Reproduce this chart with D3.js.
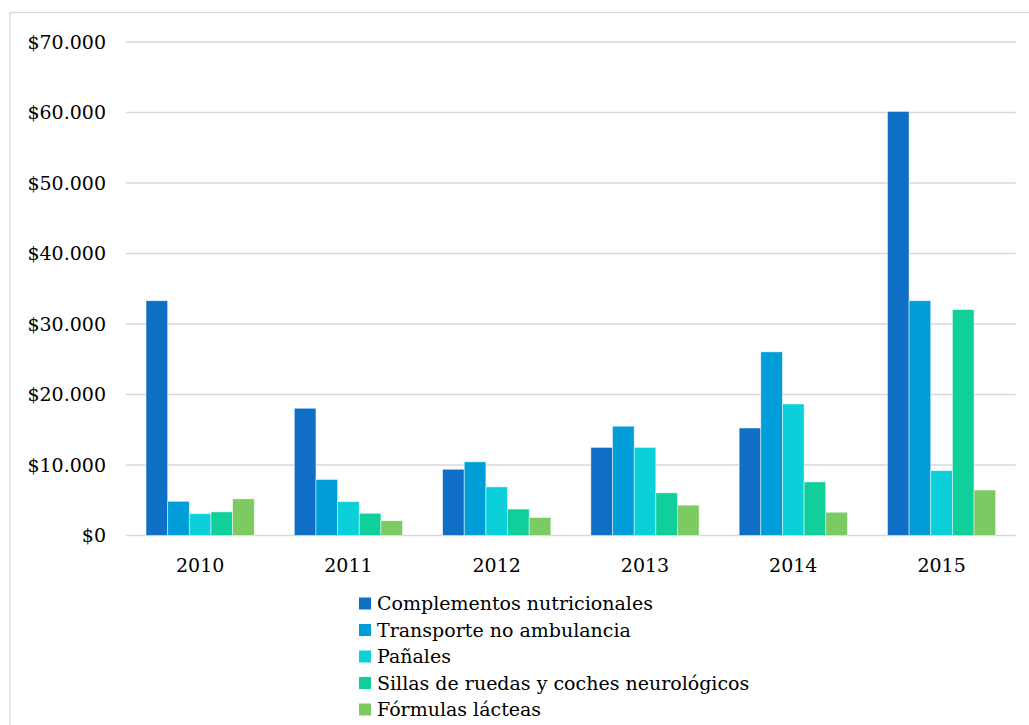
<!DOCTYPE html>
<html>
<head>
<meta charset="utf-8">
<script src="https://cdn.jsdelivr.net/npm/d3@7"></script>
<style>
  body { margin: 0; background: #fff; }
</style>
</head>
<body>
<div id="chart"></div>
<script>
var years = ["2010", "2011", "2012", "2013", "2014", "2015"];
var seriesNames = ["Complementos nutricionales", "Transporte no ambulancia", "Pañales",
                   "Sillas de ruedas y coches neurológicos", "Fórmulas lácteas"];
var complementos = [33300, 18050, 9400, 12500, 15250, 60150];
var transporte   = [4850, 7950, 10450, 15500, 26050, 33300];
var panales      = [3100, 4800, 6900, 12500, 18650, 9200];
var sillas       = [3350, 3150, 3750, 6050, 7600, 32050];
var formulas     = [5200, 2100, 2550, 4300, 3300, 6450];
var yTicks = [0, 10000, 20000, 30000, 40000, 50000, 60000, 70000];
var colors = ["#0f6fc6", "#009dd9", "#0bd0d9", "#10cf9b", "#7cca62"];

var series = [complementos, transporte, panales, sillas, formulas];
var serif = "'DejaVu Serif'";
var fs = "19px";

var margin = {top: 42, left: 126, right: 13.3, bottom: 189.5};
var W = 1029, H = 725;
var width = W - margin.left - margin.right;
var height = H - margin.top - margin.bottom;

var svg = d3.select("#chart").append("svg").attr("width", W).attr("height", H);

// outer frame
svg.append("rect")
  .attr("x", 10).attr("y", 12.5).attr("width", 1030).attr("height", 730)
  .attr("fill", "none").attr("stroke", "#d9d9d9").attr("stroke-width", 1.3);

var g = svg.append("g").attr("transform", "translate(" + margin.left + "," + margin.top + ")");

var x0 = d3.scaleBand().domain(years).range([0, width]).paddingInner(0.27).paddingOuter(0.135);
var x1 = d3.scaleBand().domain(d3.range(seriesNames.length)).range([0, x0.bandwidth()]);
var y = d3.scaleLinear().domain([0, 70000]).range([height, 0]);

var fmt = function(v) { return "$" + d3.format(",")(v).replace(/,/g, "."); };

// grid
g.append("g").selectAll("line").data(yTicks).enter().append("line")
  .attr("x1", 0).attr("x2", width)
  .attr("y1", function(d) { return y(d); }).attr("y2", function(d) { return y(d); })
  .attr("stroke", "#d9d9d9").attr("stroke-width", 1.4);

// y labels
g.append("g").selectAll("text").data(yTicks).enter().append("text")
  .attr("x", -20).attr("y", function(d) { return y(d); })
  .attr("dy", "0.36em").attr("text-anchor", "end")
  .style("font-family", serif).style("font-size", fs)
  .text(fmt);

// bars
var groups = g.selectAll(".year").data(years).enter().append("g")
  .attr("transform", function(d) { return "translate(" + x0(d) + ",0)"; });

groups.selectAll("rect").data(function(d, i) { return series.map(function(s, k) { return {k: k, v: s[i]}; }); })
  .enter().append("rect")
  .attr("x", function(d) { return x1(d.k); })
  .attr("width", x1.bandwidth())
  .attr("y", function(d) { return y(d.v); })
  .attr("height", function(d) { return height - y(d.v); })
  .attr("fill", function(d) { return colors[d.k]; })
  .attr("stroke", "#ffffff").attr("stroke-opacity", 0.6).attr("stroke-width", 0.8);

// x labels
g.append("g").selectAll("text").data(years).enter().append("text")
  .attr("x", function(d) { return x0(d) + x0.bandwidth() / 2; })
  .attr("y", height + 36.5)
  .attr("text-anchor", "middle")
  .style("font-family", serif).style("font-size", fs)
  .text(function(d) { return d; });

// legend
var legend = svg.append("g").attr("transform", "translate(359,597.5)");
var rowH = 26.5;
seriesNames.forEach(function(name, i) {
  var row = legend.append("g").attr("transform", "translate(0," + (i * rowH) + ")");
  row.append("rect").attr("x", 0).attr("y", 0).attr("width", 12).attr("height", 12)
    .attr("fill", colors[i]);
  row.append("text").attr("x", 18).attr("y", 12.5)
    .style("font-family", serif).style("font-size", fs).text(name);
});
</script>
</body>
</html>
